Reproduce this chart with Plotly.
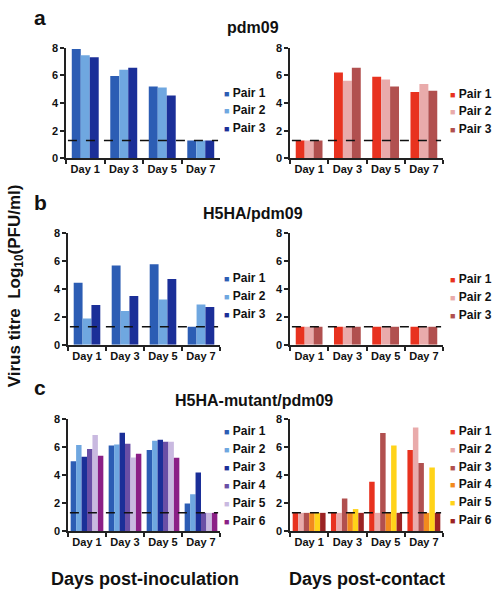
import plotly.graph_objects as go

W, H = 494, 601
FONT = "Liberation Sans, Arial, Helvetica, sans-serif"

days = ["Day 1", "Day 3", "Day 5", "Day 7"]
y_ticks = [0, 2, 4, 6, 8]
limit = 1.3  # detection limit

# Panel a: pdm09
a_inoc = {
    "Pair 1": [7.9, 5.95, 5.2, 1.3],
    "Pair 2": [7.45, 6.4, 5.12, 1.3],
    "Pair 3": [7.3, 6.55, 4.55, 1.3],
}
a_cont = {
    "Pair 1": [1.3, 6.2, 5.9, 4.8],
    "Pair 2": [1.3, 5.6, 5.7, 5.38],
    "Pair 3": [1.3, 6.55, 5.2, 4.88],
}
# Panel b: H5HA/pdm09
b_inoc = {
    "Pair 1": [4.45, 5.7, 5.78, 1.3],
    "Pair 2": [1.88, 2.43, 3.25, 2.9],
    "Pair 3": [2.85, 3.5, 4.72, 2.72],
}
b_cont = {
    "Pair 1": [1.3, 1.3, 1.3, 1.3],
    "Pair 2": [1.3, 1.3, 1.3, 1.3],
    "Pair 3": [1.3, 1.3, 1.3, 1.3],
}
# Panel c: H5HA-mutant/pdm09
c_inoc = {
    "Pair 1": [5.0, 6.13, 5.8, 1.97],
    "Pair 2": [6.15, 6.2, 6.46, 2.64],
    "Pair 3": [5.31, 7.04, 6.53, 4.19],
    "Pair 4": [5.87, 6.25, 6.39, 1.3],
    "Pair 5": [6.88, 5.26, 6.39, 1.3],
    "Pair 6": [5.38, 5.54, 5.24, 1.3],
}
c_cont = {
    "Pair 1": [1.3, 1.3, 3.53, 5.8],
    "Pair 2": [1.3, 1.3, 1.3, 7.42],
    "Pair 3": [1.3, 2.32, 7.02, 4.87],
    "Pair 4": [1.3, 1.3, 1.3, 1.3],
    "Pair 5": [1.3, 1.57, 6.13, 4.54],
    "Pair 6": [1.3, 1.3, 1.3, 1.3],
}

blues = ["#2c5db4", "#6fa7e0", "#1b2f98", "#6a4fa6", "#c9b9e0", "#8b1f86"]
reds = ["#e8321f", "#e9abab", "#b1504f", "#f28a1e", "#ffd319", "#9b2323"]

panel_titles = ["pdm09", "H5HA/pdm09", "H5HA-mutant/pdm09"]
panel_letters = ["a", "b", "c"]

# layout geometry (pixels)
left_x = [(66, 220), (68, 220), (68, 220)]
right_x = (290, 443)
rows_y = [(42.5, 155.5), (232, 345.7), (421.7, 535.7)]
group_frac = [0.70, 0.70, 0.86]
title_pos = [(253, 22), (253, 212), (254, 403)]
letter_y = [12, 200, 389]
legend_y0 = [(88.3, 89.3), (277.3, 278.3), (434.0, 433.3)]
legend_step = [18.0, 18.3, 18.3]
legend_x = (222, 448)

fig = go.Figure()

def px_x(p):
    return p / W

def px_y(p):
    return 1 - p / H

datasets = [(a_inoc, a_cont), (b_inoc, b_cont), (c_inoc, c_cont)]
annotations = []
shapes = []
layout_axes = {}
ax_i = 0
for r, (inoc, cont) in enumerate(datasets):
    for side, (data, cols) in enumerate([(inoc, blues), (cont, reds)]):
        ax_i += 1
        xa = "x" if ax_i == 1 else f"x{ax_i}"
        ya = "y" if ax_i == 1 else f"y{ax_i}"
        n = len(data)
        gw = group_frac[r]
        bw = gw / n
        for k, (name, vals) in enumerate(data.items()):
            fig.add_trace(go.Bar(
                x=days, y=vals, name=name, xaxis=xa, yaxis=ya,
                marker=dict(color=cols[k], line=dict(width=0)),
                width=bw, offset=-gw / 2 + k * bw, showlegend=False,
            ))
            # legend entries
            lx = legend_x[side]
            ly = legend_y0[r][side] + k * legend_step[r]
            annotations.append(dict(
                x=px_x(lx), y=px_y(ly), xref="paper", yref="paper",
                xanchor="left", yanchor="middle", showarrow=False,
                text=f'<span style="color:{cols[k]};font-size:9px">■</span> <b>{name}</b>',
                font=dict(family=FONT, size=12, color="#111"),
            ))
        xd = left_x[r] if side == 0 else right_x
        yd = rows_y[r]
        key = "xaxis" if ax_i == 1 else f"xaxis{ax_i}"
        keyy = "yaxis" if ax_i == 1 else f"yaxis{ax_i}"
        layout_axes[key] = dict(
            domain=[px_x(xd[0]), px_x(xd[1])], anchor=ya,
            type="category", categoryorder="array", categoryarray=days,
            tickmode="array", tickvals=days,
            ticktext=[f"<b>{d}</b>" for d in days],
            range=[-0.5, 3.5], tickson="boundaries", ticks="outside",
            ticklen=4, tickwidth=1.5, tickcolor="#222", tickangle=0,
            showline=True, linecolor="#222", linewidth=1.5,
            showgrid=False, zeroline=False,
            tickfont=dict(family=FONT, size=11, color="#111"),
        )
        layout_axes[keyy] = dict(
            domain=[px_y(yd[1]), px_y(yd[0])], anchor=xa,
            range=[0, 8], tickmode="array", tickvals=y_ticks,
            ticktext=[f"<b>{t}</b>" for t in y_ticks],
            ticks="outside", ticklen=4,
            tickwidth=1.5, tickcolor="#222",
            showline=True, linecolor="#222", linewidth=1.5,
            showgrid=False, zeroline=False,
            tickfont=dict(family=FONT, size=11, color="#111"),
        )
        shapes.append(dict(
            type="line", xref=xa, yref=ya, x0=-0.45, x1=3.45,
            y0=limit, y1=limit, layer="above",
            line=dict(color="#111", width=1.5, dash="dash"),
        ))
    # titles
    tx, ty = title_pos[r]
    annotations.append(dict(
        x=px_x(tx), y=px_y(ty), xref="paper", yref="paper",
        xanchor="center", yanchor="middle", showarrow=False,
        text=f"<b>{panel_titles[r]}</b>",
        font=dict(family=FONT, size=16, color="#111"),
    ))
    annotations.append(dict(
        x=px_x(40), y=px_y(letter_y[r]), xref="paper", yref="paper",
        xanchor="center", yanchor="middle", showarrow=False,
        text=f"<b>{panel_letters[r]}</b>",
        font=dict(family=FONT, size=21, color="#111"),
    ))

annotations.append(dict(
    x=px_x(16), y=px_y(286), xref="paper", yref="paper",
    xanchor="center", yanchor="middle", showarrow=False, textangle=-90,
    text="<b>Virus titre  Log<sub>10</sub>(PFU/ml)</b>",
    font=dict(family=FONT, size=17, color="#111"),
))
annotations.append(dict(
    x=px_x(145), y=px_y(585), xref="paper", yref="paper",
    xanchor="center", yanchor="middle", showarrow=False,
    text="<b>Days post-inoculation</b>",
    font=dict(family=FONT, size=18, color="#111"),
))
annotations.append(dict(
    x=px_x(367), y=px_y(585), xref="paper", yref="paper",
    xanchor="center", yanchor="middle", showarrow=False,
    text="<b>Days post-contact</b>",
    font=dict(family=FONT, size=18, color="#111"),
))

fig.update_layout(
    width=W, height=H, margin=dict(l=0, r=0, t=0, b=0),
    paper_bgcolor="white", plot_bgcolor="white",
    barmode="overlay", showlegend=False,
    annotations=annotations, shapes=shapes,
    **layout_axes,
)

fig.write_html(
    "out.html",
    config={"displayModeBar": False},
    post_script="document.body.style.margin='0px';document.body.style.overflow='hidden';",
)
